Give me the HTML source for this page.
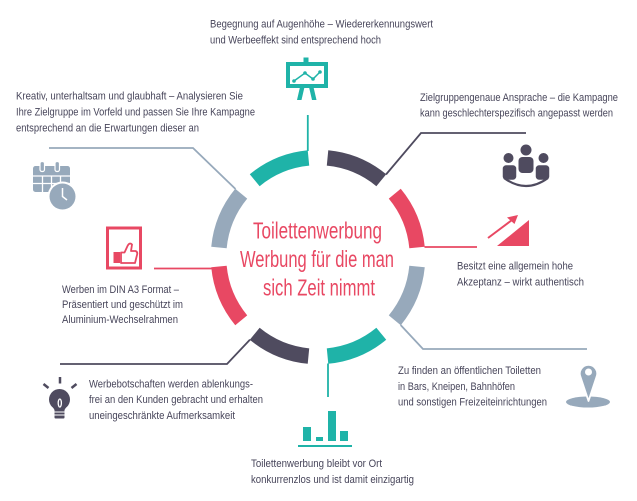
<!DOCTYPE html>
<html>
<head>
<meta charset="utf-8">
<style>
  html,body{margin:0;padding:0;background:#fff;}
  svg{display:block;}
  .t{font-family:"Liberation Sans Narrow","Liberation Sans",sans-serif;font-size:11px;fill:#47455a;}
  .c{font-family:"Liberation Sans Narrow","Liberation Sans",sans-serif;font-size:23px;fill:#e84863;}
</style>
</head>
<body>
<svg width="637" height="501" viewBox="0 0 637 501" xmlns="http://www.w3.org/2000/svg">
  <!-- Ring segments -->
  <g fill="none" stroke-width="15.5" stroke-linecap="butt">
    <path d="M417.04,247.47 A99.5,99.5 0 0 0 394.77,193.71" stroke="#e84863"/>
    <path d="M381.29,180.23 A99.5,99.5 0 0 0 327.53,157.96" stroke="#4f4b5f"/>
    <path d="M308.47,157.96 A99.5,99.5 0 0 0 254.71,180.23" stroke="#1fb3a8"/>
    <path d="M241.23,193.71 A99.5,99.5 0 0 0 218.96,247.47" stroke="#97a9bb"/>
    <path d="M218.96,266.53 A99.5,99.5 0 0 0 241.23,320.29" stroke="#e84863"/>
    <path d="M254.71,333.77 A99.5,99.5 0 0 0 308.47,356.04" stroke="#4f4b5f"/>
    <path d="M327.53,356.04 A99.5,99.5 0 0 0 381.29,333.77" stroke="#1fb3a8"/>
    <path d="M394.77,320.29 A99.5,99.5 0 0 0 417.04,266.53" stroke="#97a9bb"/>
  </g>

  <!-- Connectors -->
  <g fill="none" stroke-width="1.8">
    <polyline points="307.8,151 307.8,115" stroke="#1fb3a8"/>
    <polyline points="235.5,189 193,148 49,148" stroke="#97a9bb"/>
    <polyline points="386,174.5 421,133 526,133" stroke="#4f4b5f"/>
    <polyline points="424.5,247 477,247" stroke="#e84863"/>
    <polyline points="400.6,325 423,349 587,349" stroke="#97a9bb"/>
    <polyline points="328,363.5 328,397" stroke="#1fb3a8"/>
    <polyline points="250,339.6 227,364 60,364" stroke="#4f4b5f"/>
    <polyline points="212,268.5 154,268.5" stroke="#e84863"/>
  </g>

  <!-- Center text -->
  <text class="c" x="253" y="238.5" textLength="129" lengthAdjust="spacingAndGlyphs">Toilettenwerbung</text>
  <text class="c" x="240" y="267" textLength="154" lengthAdjust="spacingAndGlyphs">Werbung für die man</text>
  <text class="c" x="263" y="295.5" textLength="112" lengthAdjust="spacingAndGlyphs">sich Zeit nimmt</text>

  <!-- Block texts -->
  <text class="t" x="210" y="27.5" textLength="223" lengthAdjust="spacingAndGlyphs">Begegnung auf Augenhöhe – Wiedererkennungswert</text>
  <text class="t" x="210" y="43.5" textLength="171" lengthAdjust="spacingAndGlyphs">und Werbeeffekt sind entsprechend hoch</text>

  <text class="t" x="16" y="99.5" textLength="227" lengthAdjust="spacingAndGlyphs">Kreativ, unterhaltsam und glaubhaft – Analysieren Sie</text>
  <text class="t" x="16" y="115.5" textLength="239" lengthAdjust="spacingAndGlyphs">Ihre Zielgruppe im Vorfeld und passen Sie Ihre Kampagne</text>
  <text class="t" x="16" y="131.5" textLength="183" lengthAdjust="spacingAndGlyphs">entsprechend an die Erwartungen dieser an</text>

  <text class="t" x="420" y="101" textLength="198" lengthAdjust="spacingAndGlyphs">Zielgruppengenaue Ansprache – die Kampagne</text>
  <text class="t" x="420" y="116.5" textLength="193" lengthAdjust="spacingAndGlyphs">kann geschlechterspezifisch angepasst werden</text>

  <text class="t" x="457" y="269.5" textLength="116" lengthAdjust="spacingAndGlyphs">Besitzt eine allgemein hohe</text>
  <text class="t" x="457" y="285.5" textLength="127" lengthAdjust="spacingAndGlyphs">Akzeptanz – wirkt authentisch</text>

  <text class="t" x="398" y="374" textLength="143" lengthAdjust="spacingAndGlyphs">Zu finden an öffentlichen Toiletten</text>
  <text class="t" x="398" y="390" textLength="117" lengthAdjust="spacingAndGlyphs">in Bars, Kneipen, Bahnhöfen</text>
  <text class="t" x="398" y="405.5" textLength="149" lengthAdjust="spacingAndGlyphs">und sonstigen Freizeiteinrichtungen</text>

  <text class="t" x="251" y="467" textLength="131" lengthAdjust="spacingAndGlyphs">Toilettenwerbung bleibt vor Ort</text>
  <text class="t" x="251" y="483" textLength="163" lengthAdjust="spacingAndGlyphs">konkurrenzlos und ist damit einzigartig</text>

  <text class="t" x="89" y="387.5" textLength="164" lengthAdjust="spacingAndGlyphs">Werbebotschaften werden ablenkungs-</text>
  <text class="t" x="89" y="403" textLength="174" lengthAdjust="spacingAndGlyphs">frei an den Kunden gebracht und erhalten</text>
  <text class="t" x="89" y="419" textLength="146" lengthAdjust="spacingAndGlyphs">uneingeschränkte Aufmerksamkeit</text>

  <text class="t" x="62" y="293" textLength="117" lengthAdjust="spacingAndGlyphs">Werben im DIN A3 Format –</text>
  <text class="t" x="62" y="308" textLength="121" lengthAdjust="spacingAndGlyphs">Präsentiert und geschützt im</text>
  <text class="t" x="62" y="323" textLength="116" lengthAdjust="spacingAndGlyphs">Aluminium-Wechselrahmen</text>

  <!-- Icon: presentation board (teal) -->
  <g fill="#1fb3a8">
    <rect x="303.5" y="57.5" width="5" height="6"/>
    <rect x="288" y="64" width="38" height="22" fill="none" stroke="#1fb3a8" stroke-width="4"/>
    <polygon points="300,87 304.5,87 301.5,100 297,100"/>
    <polygon points="309,87 313.5,87 316.5,100 312,100"/>
    <polyline points="294,81 305,73 313,79 320,72" fill="none" stroke="#1fb3a8" stroke-width="1.5"/>
    <circle cx="294" cy="81" r="1.8"/>
    <circle cx="305" cy="73" r="1.8"/>
    <circle cx="313" cy="79" r="1.8"/>
    <circle cx="320" cy="72" r="1.8"/>
  </g>

  <!-- Icon: calendar with clock (grey-blue) -->
  <g>
    <rect x="33" y="166" width="37" height="26" rx="2.5" fill="#97a9bb"/>
    <g stroke="#fff" stroke-width="1.3">
      <line x1="33" y1="176" x2="70" y2="176"/>
      <line x1="33" y1="183.5" x2="70" y2="183.5"/>
      <line x1="42.5" y1="176" x2="42.5" y2="192"/>
      <line x1="51.5" y1="176" x2="51.5" y2="192"/>
      <line x1="60.5" y1="176" x2="60.5" y2="192"/>
    </g>
    <rect x="40" y="161.5" width="4.5" height="10" rx="2" fill="#97a9bb" stroke="#fff" stroke-width="1.2"/>
    <rect x="55" y="161.5" width="4.5" height="10" rx="2" fill="#97a9bb" stroke="#fff" stroke-width="1.2"/>
    <circle cx="62.5" cy="196.5" r="15" fill="#fff"/>
    <circle cx="62.5" cy="196.5" r="13" fill="#97a9bb"/>
    <polyline points="62.5,188 62.5,196.5 67,200" fill="none" stroke="#fff" stroke-width="1.5"/>
  </g>

  <!-- Icon: people (dark) -->
  <g fill="#4f4b5f">
    <circle cx="526" cy="150" r="5.5"/>
    <circle cx="508.5" cy="158" r="5"/>
    <circle cx="543.5" cy="158" r="5"/>
    <rect x="518.5" y="157" width="15" height="16" rx="4"/>
    <rect x="502" y="164.5" width="15" height="16" rx="4" stroke="#fff" stroke-width="1.5"/>
    <rect x="535" y="164.5" width="15" height="16" rx="4" stroke="#fff" stroke-width="1.5"/>
    <path d="M504,178 Q526,194 548,178" fill="none" stroke="#4f4b5f" stroke-width="2.2"/>
  </g>

  <!-- Icon: arrow + triangle (red) -->
  <g fill="#e84863">
    <line x1="488" y1="238" x2="512" y2="220" stroke="#e84863" stroke-width="2"/>
    <polygon points="518,215 507,217.5 514.5,224"/>
    <polygon points="497,246 529,220 529,246"/>
  </g>

  <!-- Icon: thumb in frame (red) -->
  <g>
    <rect x="107.5" y="228" width="33" height="40" fill="none" stroke="#e84863" stroke-width="3"/>
    <rect x="113.5" y="252" width="6.5" height="11" fill="#e84863"/>
    <path d="M121,252.5 L124.5,252.5 L127.5,246 Q129.5,242 132,244.5 L131,251 L135.5,251 Q138,252 137,255 L135,263 L121,263 Z" fill="none" stroke="#e84863" stroke-width="1.8" stroke-linejoin="round"/>
  </g>

  <!-- Icon: bulb (dark) -->
  <g>
    <g stroke="#4f4b5f" stroke-width="2.5" stroke-linecap="butt">
      <line x1="60" y1="377" x2="60" y2="383.5"/>
      <line x1="43.5" y1="384" x2="48.5" y2="388"/>
      <line x1="76.5" y1="384" x2="71.5" y2="388"/>
    </g>
    <circle cx="59.5" cy="399.5" r="10.5" fill="#4f4b5f"/>
    <path d="M51,404 L54.5,410 L64.5,410 L68,404 Z" fill="#4f4b5f"/>
    <rect x="54.5" y="409" width="10" height="9.5" rx="1" fill="#4f4b5f"/>
    <line x1="54.5" y1="412" x2="64.5" y2="412" stroke="#fff" stroke-width="1"/>
    <line x1="54.5" y1="415" x2="64.5" y2="415" stroke="#fff" stroke-width="1"/>
    <ellipse cx="59.8" cy="403" rx="1.6" ry="4" fill="none" stroke="#fff" stroke-width="1.3"/>
  </g>

  <!-- Icon: pin (grey-blue) -->
  <g>
    <ellipse cx="588" cy="402" rx="22" ry="5.5" fill="#97a9bb"/>
    <path d="M588.5,401 L580.5,377 A8.7,8.7 0 1 1 596.5,377 Z" fill="#97a9bb" stroke="#fff" stroke-width="1.8" stroke-linejoin="round"/>
    <circle cx="588.5" cy="372" r="3.5" fill="#fff"/>
  </g>

  <!-- Icon: bar chart (teal) -->
  <g fill="#1fb3a8">
    <rect x="303" y="427" width="8" height="14"/>
    <rect x="316" y="437" width="7" height="4"/>
    <rect x="328" y="411" width="8" height="30"/>
    <rect x="340" y="431" width="8" height="10"/>
    <rect x="298" y="445" width="54" height="2"/>
  </g>
</svg>
</body>
</html>
